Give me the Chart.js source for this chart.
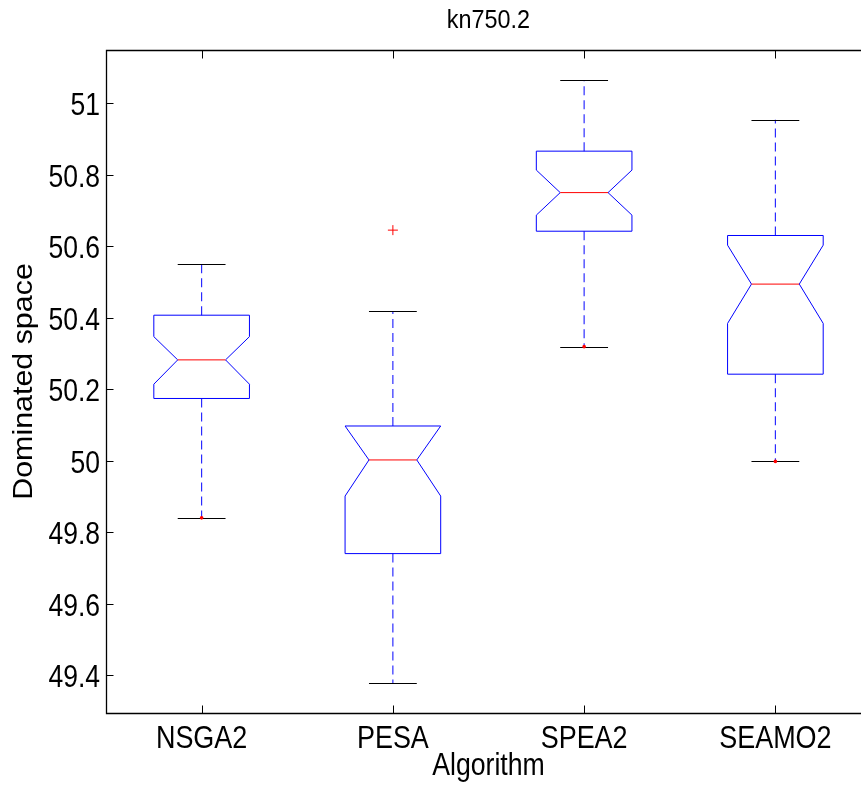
<!DOCTYPE html>
<html>
<head>
<meta charset="utf-8">
<script src="https://cdn.jsdelivr.net/npm/chart.js@4/dist/chart.umd.min.js"></script>
<style>
html,body{margin:0;padding:0;background:#fff;overflow:hidden;}
canvas{display:block;}
</style>
</head>
<body>
<canvas id="c" width="877" height="787"></canvas>
<script>
const categories = ['NSGA2', 'PESA', 'SPEA2', 'SEAMO2'];
const whiskerLow  = [49.840, 49.378, 50.319, 49.998];
const q1          = [50.174, 49.740, 50.642, 50.242];
const notchLow    = [50.214, 49.901, 50.687, 50.384];
const median      = [50.282, 50.002, 50.750, 50.494];
const notchHigh   = [50.347, 50.097, 50.813, 50.603];
const q3          = [50.407, 50.097, 50.866, 50.630];
const whiskerHigh = [50.549, 50.418, 51.065, 50.954];
const outlierPos  = [2];
const outlierVal  = [50.645];
const dotPos      = [1, 3, 4];
const dotVal      = [49.840, 50.319, 49.998];
const yTicks      = [49.4, 49.6, 49.8, 50, 50.2, 50.4, 50.6, 50.8, 51];
const yTickLabels = ['49.4', '49.6', '49.8', '50', '50.2', '50.4', '50.6', '50.8', '51'];
const titleText = 'kn750.2';
const xTitle = 'Algorithm';
const yTitle = 'Dominated space';

const FONT = '"Liberation Sans", Arial, Helvetica, sans-serif';

function drawText(ctx, text, x, y, size, sx, sy, rot, align) {
  ctx.save();
  ctx.translate(x, y);
  if (rot) ctx.rotate(rot);
  ctx.scale(sx, sy);
  ctx.font = size + 'px ' + FONT;
  ctx.fillStyle = '#000';
  ctx.textAlign = align || 'center';
  ctx.textBaseline = 'alphabetic';
  ctx.fillText(text, 0, 0);
  ctx.restore();
}

const boxPlugin = {
  id: 'boxes',
  beforeDatasetsDraw(chart) {
    const ctx = chart.ctx;
    const xs = chart.scales.x, ys = chart.scales.y;
    const X = v => xs.getPixelForValue(v);
    const Y = v => ys.getPixelForValue(v);
    ctx.save();
    for (let i = 0; i < categories.length; i++) {
      const p = i + 1;
      const xl = X(p - 0.25), xr = X(p + 0.25);
      const nl = X(p - 0.125), nr = X(p + 0.125);
      const cx = X(p);
      // whiskers
      ctx.strokeStyle = '#1a1aff';
      ctx.lineWidth = 1.1;
      ctx.setLineDash([9, 5]);
      ctx.beginPath();
      ctx.moveTo(cx, Y(q3[i])); ctx.lineTo(cx, Y(whiskerHigh[i]));
      ctx.moveTo(cx, Y(q1[i])); ctx.lineTo(cx, Y(whiskerLow[i]));
      ctx.stroke();
      ctx.setLineDash([]);
      // caps
      ctx.strokeStyle = '#000';
      ctx.lineWidth = 1;
      ctx.beginPath();
      ctx.moveTo(nl, Math.round(Y(whiskerHigh[i])) + 0.5); ctx.lineTo(nr, Math.round(Y(whiskerHigh[i])) + 0.5);
      ctx.moveTo(nl, Math.round(Y(whiskerLow[i])) + 0.5); ctx.lineTo(nr, Math.round(Y(whiskerLow[i])) + 0.5);
      ctx.stroke();
      // notched box
      ctx.strokeStyle = '#0000ff';
      ctx.beginPath();
      ctx.moveTo(xl, Y(q1[i]));
      ctx.lineTo(xl, Y(notchLow[i]));
      ctx.lineTo(nl, Y(median[i]));
      ctx.lineTo(xl, Y(notchHigh[i]));
      ctx.lineTo(xl, Y(q3[i]));
      ctx.lineTo(xr, Y(q3[i]));
      ctx.lineTo(xr, Y(notchHigh[i]));
      ctx.lineTo(nr, Y(median[i]));
      ctx.lineTo(xr, Y(notchLow[i]));
      ctx.lineTo(xr, Y(q1[i]));
      ctx.closePath();
      ctx.stroke();
      // median
      ctx.strokeStyle = '#ff0000';
      ctx.beginPath();
      ctx.moveTo(nl, Y(median[i])); ctx.lineTo(nr, Y(median[i]));
      ctx.stroke();
    }
    ctx.restore();
  },
  afterDatasetsDraw(chart) {
    const ctx = chart.ctx;
    const a = chart.chartArea;
    const xs = chart.scales.x, ys = chart.scales.y;
    ctx.save();
    ctx.strokeStyle = '#000';
    ctx.lineWidth = 1.3;
    const L = Math.round(a.left) + 0.5, T = Math.round(a.top) + 0.5, B = Math.round(a.bottom) + 0.5, R = Math.round(a.right) + 0.5;
    ctx.beginPath();
    ctx.moveTo(R, T); ctx.lineTo(L, T); ctx.lineTo(L, B); ctx.lineTo(R, B);
    ctx.stroke();
    ctx.lineWidth = 1;
    ctx.beginPath();
    ys.ticks.forEach(t => {
      const y = Math.round(ys.getPixelForValue(t.value)) + 0.5;
      ctx.moveTo(L, y); ctx.lineTo(L + 7, y);
    });
    xs.ticks.forEach(t => {
      const x = Math.round(xs.getPixelForValue(t.value)) + 0.5;
      ctx.moveTo(x, B); ctx.lineTo(x, B - 8);
      ctx.moveTo(x, T); ctx.lineTo(x, T + 8);
    });
    ctx.stroke();
    ctx.restore();
    // tick labels, placed by the scales
    ys.ticks.forEach(t => {
      drawText(ctx, t.label, a.left - 6, ys.getPixelForValue(t.value) + 12, 31, 0.855, 1, 0, 'right');
    });
    xs.ticks.forEach(t => {
      drawText(ctx, t.label, xs.getPixelForValue(t.value), 748, 31, 0.87, 1, 0, 'center');
    });
  },
  afterDraw(chart) {
    const ctx = chart.ctx;
    const a = chart.chartArea;
    const cx = (a.left + a.right) / 2;
    drawText(ctx, titleText, cx, 28, 26, 0.9, 1, 0, 'center');
    drawText(ctx, xTitle, cx, 775, 31, 0.86, 1, 0, 'center');
    drawText(ctx, yTitle, 32, (a.top + a.bottom) / 2, 27.4, 1.11, 1, -Math.PI / 2, 'center');
  }
};

new Chart(document.getElementById('c'), {
  type: 'scatter',
  data: {
    datasets: [
      {
        label: 'outliers',
        data: outlierPos.map((p, i) => ({ x: p, y: outlierVal[i] })),
        pointStyle: 'cross',
        pointRadius: 5,
        borderColor: '#ff0000',
        backgroundColor: '#ff0000',
        borderWidth: 1
      },
      {
        label: 'marks',
        data: dotPos.map((p, i) => ({ x: p, y: dotVal[i] })),
        pointStyle: 'circle',
        pointRadius: 1.8,
        borderWidth: 0,
        backgroundColor: '#ff0000'
      }
    ]
  },
  options: {
    responsive: false,
    animation: false,
    devicePixelRatio: 1,
    layout: { padding: { top: 50, left: 0, right: 0, bottom: 0 } },
    plugins: { legend: { display: false }, tooltip: { enabled: false }, title: { display: false } },
    scales: {
      x: {
        type: 'linear',
        min: 0.5,
        max: 4.5,
        grid: { display: false },
        border: { display: false },
        afterBuildTicks: s => { s.ticks = categories.map((c, i) => ({ value: i + 1 })); },
        afterFit: s => { s.height = 74; s.paddingLeft = 0; s.paddingRight = 0; },
        ticks: {
          display: false,
          autoSkip: false,
          maxRotation: 0,
          callback: v => categories[Math.round(v) - 1]
        }
      },
      y: {
        type: 'linear',
        min: 49.294,
        max: 51.149,
        grid: { display: false },
        border: { display: false },
        afterBuildTicks: s => { s.ticks = yTicks.map(v => ({ value: v })); },
        afterFit: s => { s.width = 106; s.paddingTop = 0; s.paddingBottom = 0; },
        ticks: {
          display: false,
          autoSkip: false,
          callback: (v, idx) => yTickLabels[idx]
        }
      }
    }
  },
  plugins: [boxPlugin]
});
</script>
</body>
</html>
